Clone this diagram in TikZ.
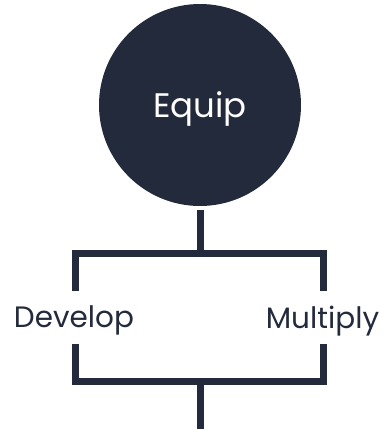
\documentclass[tikz,border=0pt]{standalone}
\usepackage{fontspec}
\setmainfont{Poppins}
\definecolor{navy}{HTML}{232A3C}
\begin{document}
\begin{tikzpicture}[x=1pt, y=-1pt, every path/.style={line width=7pt, draw=navy, line join=miter},
	label/.style={text=navy, font=\fontsize{29.5}{29.5}\selectfont, inner sep=0pt, text depth=0pt, minimum height=46pt}]
			\useasboundingbox[draw=none] (0,0) rectangle (387,429);
			\node[circle, fill=navy, draw=none, minimum size=202pt, inner sep=0pt, text depth=0pt, text=white, font=\fontsize{34}{34}\selectfont] (equip) at (200,105) {Equip};
			\node[label] (develop) at (74,317) {Develop};
			\node[label] (multiply) at (322.5,317) {Multiply};
			\coordinate (top) at (200,253.5);
			\coordinate (tl) at (75,253.5);
			\coordinate (tr) at (323,253.5);
			\coordinate (bl) at (75,381.5);
			\coordinate (br) at (323,381.5);
			\coordinate (bot) at (200,381.5);
			\coordinate (end) at (200,429);
			\draw (equip.south) to (top);
			\draw (develop.north -| tl) to (tl) to (tr) to (multiply.north -| tr);
			\draw (develop.south -| bl) to (bl) to (br) to (multiply.south -| br);
			\draw (bot) to (end);
\end{tikzpicture}
\end{document}
